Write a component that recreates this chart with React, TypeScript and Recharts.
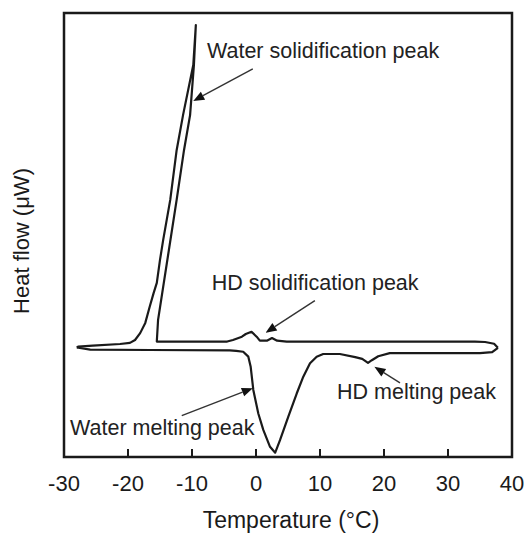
import React from "react";
import {
  LineChart,
  Line,
  XAxis,
  YAxis,
  ReferenceArea,
  ReferenceLine,
  ReferenceDot,
  Label,
} from "recharts";

// Cooling run (from 38 °C down to -28 °C)
const coolingT = [
  37.8, 37.2, 35.8, 34.2, 22.5, 6.9, 4.8, 3.3, 2.5, 1.7, 0.6, 0.1, -0.7, -1.6, -2.2,
  -3.6, -4.5, -15.5, -15.3, -12.4, -11.25, -10.3, -9.7, -9.4, -9.8, -11.4, -12.4,
  -13.4, -14.5, -15.0, -15.5, -16.0, -16.6, -17.3, -18.1, -18.9, -19.7, -21.25,
  -25.5, -27.8, -28.0,
];
const coolingQ = [
  24.6, 25.5, 25.9, 26.0, 26.0, 26.0, 26.0, 26.2, 26.8, 26.2, 26.2, 27.1, 28.2, 27.7,
  27.1, 26.35, 26.0, 26.0, 30.9, 57.9, 69.1, 77.0, 88.3, 97.3, 88.3, 77.0, 69.1,
  57.9, 48.9, 44.4, 39.2, 36.9, 33.9, 30.2, 27.9, 26.35, 25.7, 25.45, 25.07, 24.84,
  24.66,
];

// Heating run (from -28 °C up to 38 °C)
const heatingT = [
  -28.0, -25.9, -16.6, -4.1, -3.1, -2.0, -1.2, -0.83, -0.42, 0.36, 1.14, 2.19, 3.0,
  3.75, 5.05, 6.36, 7.39, 8.44, 9.48, 10.5, 13.1, 15.5, 16.6, 17.5, 18.1, 19.1, 20.9,
  35.0, 36.9, 37.8,
];
const heatingQ = [
  24.66, 24.2, 24.1, 24.0, 23.9, 23.7, 22.6, 20.3, 15.1, 9.8, 6.1, 2.3, 0.97, 3.8,
  9.1, 14.3, 18.1, 21.1, 22.6, 23.2, 23.2, 22.5, 22.1, 21.2, 21.8, 22.7, 23.4, 23.4,
  23.6, 24.6,
];

const xTicks = [-30, -20, -10, 0, 10, 20, 30, 40];

// Annotations (data coordinates)
const annotationTexts = [
  "Water solidification peak",
  "HD solidification peak",
  "Water melting peak",
  "HD melting peak",
];
const textT = [-7.66, -6.9, -29.06, 12.66];
const textQ = [89.9, 37.6, 4.95, 13.1];
const arrowTailT = [-0.5, 9.2, -11.6, 22.5];
const arrowTailQ = [87.4, 35.2, 9.3, 16.7];
const arrowHeadT = [-9.8, 1.5, -0.5, 18.5];
const arrowHeadQ = [80.2, 28.0, 15.5, 20.3];

const coolingData = coolingT.map((t, i) => ({ t, q: coolingQ[i] }));
const heatingData = heatingT.map((t, i) => ({ t, q: heatingQ[i] }));

const FONT = "'Liberation Sans', Arial, Helvetica, sans-serif";
const INK = "#1a1a1a";

const XTick = (props: any) => {
  const { x, y, payload } = props;
  return (
    <g>
      <line x1={x} x2={x} y1={y} y2={y - 8} stroke={INK} strokeWidth={2} />
      <text
        x={x}
        y={y + 34}
        textAnchor="middle"
        fontSize={22}
        fontFamily={FONT}
        fill={INK}
      >
        {payload.value}
      </text>
    </g>
  );
};

const arrowShape = (props: any) => {
  const { x1, y1, x2, y2 } = props;
  if ([x1, y1, x2, y2].some((v) => typeof v !== "number" || isNaN(v))) return <g />;
  const dx = x2 - x1;
  const dy = y2 - y1;
  const len = Math.sqrt(dx * dx + dy * dy);
  const ux = dx / len;
  const uy = dy / len;
  const headLen = 11;
  const headHalf = 4.5;
  const bx = x2 - ux * headLen;
  const by = y2 - uy * headLen;
  const p1 = `${x2},${y2}`;
  const p2 = `${bx - uy * headHalf},${by + ux * headHalf}`;
  const p3 = `${bx + uy * headHalf},${by - ux * headHalf}`;
  return (
    <g>
      <line x1={x1} y1={y1} x2={bx} y2={by} stroke="#333" strokeWidth={1.4} />
      <polygon points={`${p1} ${p2} ${p3}`} fill="#111" />
    </g>
  );
};

const makeTextShape = (label: string) => (props: any) => {
  const { cx, cy } = props;
  return (
    <text x={cx} y={cy} fontSize={21.5} fontFamily={FONT} fill="#222" textAnchor="start">
      {label}
    </text>
  );
};

const yLabel = (props: any) => {
  const vb = props.viewBox || { x: 0, y: 13, width: 64, height: 444 };
  const cx = vb.x + 21;
  const cy = vb.y + vb.height / 2 + 6;
  return (
    <text
      x={cx}
      y={cy}
      transform={`rotate(-90, ${cx}, ${cy})`}
      textAnchor="middle"
      dominantBaseline="central"
      fontSize={22}
      fontFamily={FONT}
      fill={INK}
    >
      Heat flow (μW)
    </text>
  );
};

const xLabel = (props: any) => {
  const vb = props.viewBox || { x: 64, y: 457, width: 448, height: 77 };
  const cx = vb.x + vb.width / 2 + 3;
  return (
    <text
      x={cx}
      y={vb.y + 71}
      textAnchor="middle"
      fontSize={23}
      fontFamily={FONT}
      fill={INK}
    >
      Temperature (°C)
    </text>
  );
};

export default function App() {
  return (
    <div style={{ position: "absolute", left: 0, top: 0, background: "#fff" }}>
      <LineChart
        width={524}
        height={534}
        margin={{ top: 13, right: 12, left: 0, bottom: 0 }}
      >
        <XAxis
          dataKey="t"
          type="number"
          domain={[-30, 40]}
          ticks={xTicks}
          allowDataOverflow
          height={77}
          tickSize={0}
          tickMargin={0}
          axisLine={false}
          tickLine={false}
          tick={<XTick />}
          label={<Label content={xLabel} />}
        />
        <YAxis
          dataKey="q"
          type="number"
          domain={[0, 100]}
          allowDataOverflow
          width={64}
          tick={false}
          tickLine={false}
          axisLine={false}
          label={<Label content={yLabel} />}
        />
        <ReferenceArea
          x1={-30}
          x2={40}
          y1={0}
          y2={100}
          fill="none"
          fillOpacity={0}
          stroke={INK}
          strokeWidth={2.5}
          ifOverflow="visible"
        />
        <Line
          data={coolingData}
          dataKey="q"
          type="linear"
          stroke={INK}
          strokeWidth={2.2}
          strokeLinejoin="round"
          dot={false}
          activeDot={false}
          isAnimationActive={false}
        />
        <Line
          data={heatingData}
          dataKey="q"
          type="linear"
          stroke={INK}
          strokeWidth={2.2}
          strokeLinejoin="round"
          dot={false}
          activeDot={false}
          isAnimationActive={false}
        />
        {annotationTexts.map((label, i) => (
          <ReferenceLine
            key={`arrow-${i}`}
            segment={[
              { x: arrowTailT[i], y: arrowTailQ[i] },
              { x: arrowHeadT[i], y: arrowHeadQ[i] },
            ]}
            shape={arrowShape}
            ifOverflow="visible"
          />
        ))}
        {annotationTexts.map((label, i) => (
          <ReferenceDot
            key={`text-${i}`}
            x={textT[i]}
            y={textQ[i]}
            r={0}
            shape={makeTextShape(label)}
            ifOverflow="visible"
          />
        ))}
      </LineChart>
    </div>
  );
}
